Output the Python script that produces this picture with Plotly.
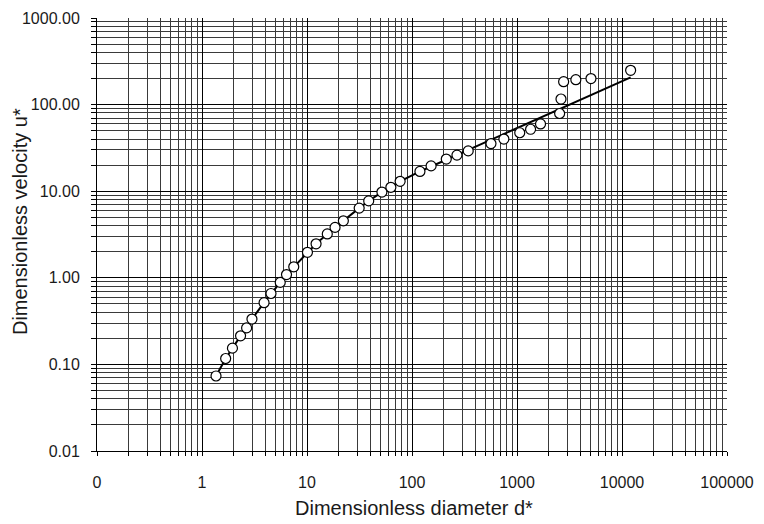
import plotly.graph_objects as go

# Observed data points (dimensionless diameter d*, dimensionless velocity u*)
d_star = [1.36, 1.68, 1.95, 2.33, 2.66, 2.99, 3.90, 4.54, 5.56, 6.38, 7.48,
          10.1, 12.2, 15.6, 18.5, 22.2, 31.4, 38.7, 51.7, 62.9, 77.1, 119,
          152, 212, 268, 343, 565, 750, 1062, 1347, 1675, 2547, 2624, 2780,
          3634, 5064, 12080]
u_star = [0.0735, 0.117, 0.154, 0.214, 0.264, 0.334, 0.516, 0.659, 0.885,
          1.09, 1.34, 1.97, 2.47, 3.21, 3.82, 4.55, 6.38, 7.73, 9.77, 11.1,
          13.0, 16.9, 19.6, 23.5, 26.1, 29.2, 35.5, 40.0, 47.3, 51.9, 59.8,
          78.9, 116, 184, 194, 200, 249]

# Fitted curve
fit_d = [1.36, 1.68, 1.95, 2.33, 2.66, 2.99, 3.90, 4.54, 5.56, 6.38, 7.48,
         10.1, 12.2, 15.6, 18.5, 22.2, 31.4, 38.7, 51.7, 62.9, 77.1, 119, 12080]
fit_u = [0.0735, 0.117, 0.154, 0.214, 0.264, 0.334, 0.516, 0.659, 0.885,
         1.09, 1.34, 1.97, 2.47, 3.21, 3.82, 4.55, 6.38, 7.73, 9.77, 11.1,
         13.0, 16.9, 206]

x_title = "Dimensionless diameter d*"
y_title = "Dimensionless velocity u*"

FONT = "Liberation Sans, Arial, sans-serif"

fig = go.Figure()
fig.add_trace(go.Scatter(x=fit_d, y=fit_u, mode="lines",
                         line=dict(color="black", width=2), showlegend=False,
                         hoverinfo="skip"))
fig.add_trace(go.Scatter(x=d_star, y=u_star, mode="markers",
                         marker=dict(symbol="circle", size=10, color="white",
                                     line=dict(color="black", width=1.2)),
                         showlegend=False))

common_axis = dict(
    type="log", showline=True, linecolor="black", linewidth=1,
    showgrid=True, gridcolor="#000000", gridwidth=1,
    ticks="outside", tickcolor="black", tickwidth=1,
    tickmode="linear", tick0=0, dtick=1,
    zeroline=False,
    tickfont=dict(family=FONT, size=16, color="#1a1a1a"),
)

fig.update_xaxes(**common_axis, range=[-1, 5], tickformat=".0f", ticklen=4,
                 ticklabelstandoff=13,
                 minor=dict(dtick="D1", showgrid=True, gridcolor="#3a3a3a",
                            gridwidth=1, ticks="outside", ticklen=4,
                            tickcolor="black"))
fig.update_yaxes(**common_axis, range=[-2, 3], tickformat=".2f", ticklen=5,
                 ticklabelstandoff=8,
                 minor=dict(dtick="D1", showgrid=True, gridcolor="#3a3a3a",
                            gridwidth=1, ticks="outside", ticklen=5,
                            tickcolor="black"))

fig.add_annotation(text=x_title, xref="paper", yref="paper", x=0.5025,
                   y=-0.1315, showarrow=False, xanchor="center",
                   yanchor="middle",
                   font=dict(family=FONT, size=20, color="#1a1a1a"))
fig.add_annotation(text=y_title, xref="paper", yref="paper", x=-0.1233,
                   y=0.5295, showarrow=False, xanchor="center",
                   yanchor="middle", textangle=-90,
                   font=dict(family=FONT, size=20, color="#1a1a1a"))

fig.update_layout(
    width=764, height=524,
    margin=dict(l=97, r=31, t=10, b=73),
    paper_bgcolor="white", plot_bgcolor="white",
    font=dict(family=FONT),
)

fig.write_html("out.html")
